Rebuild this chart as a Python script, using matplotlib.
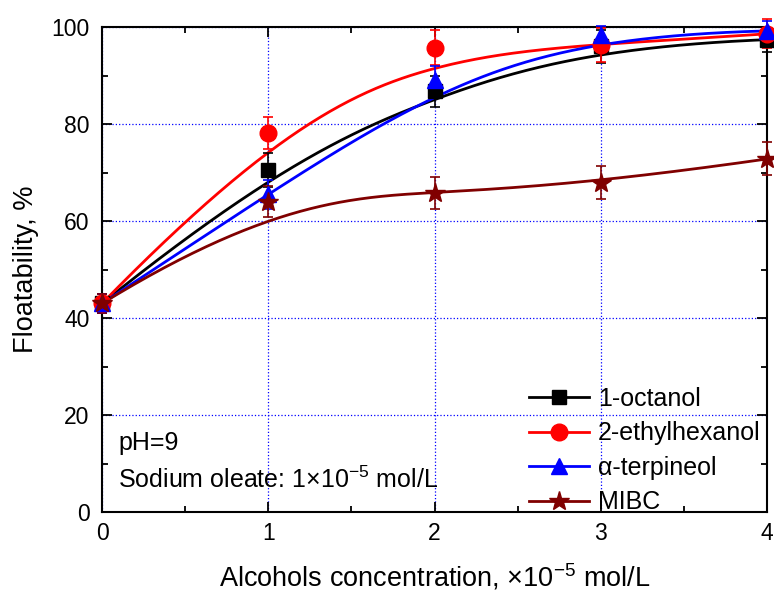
import numpy as np
import matplotlib.pyplot as plt
from matplotlib.ticker import MultipleLocator

plt.rcParams['font.family'] = ['Liberation Sans', 'DejaVu Sans']
plt.rcParams['mathtext.fontset'] = 'custom'
plt.rcParams['mathtext.rm'] = 'Liberation Sans'

# alcohol concentration, x10^-5 mol/L
conc = [0, 1, 2, 3, 4]

octanol = [43.0, 70.5, 86.8, 96.0, 97.4]
octanol_err = [2.0, 3.5, 3.2, 3.4, 2.5]
ethylhexanol = [43.0, 78.1, 95.7, 96.3, 98.6]
ethylhexanol_err = [2.0, 3.3, 3.6, 3.5, 3.0]
terpineol = [43.0, 65.5, 89.0, 98.3, 99.2]
terpineol_err = [2.0, 3.0, 3.0, 2.0, 2.0]
mibc = [43.0, 64.0, 65.8, 67.9, 72.8]
mibc_err = [2.0, 3.2, 3.3, 3.4, 3.4]

names = ['1-octanol', '2-ethylhexanol', 'α-terpineol', 'MIBC']
colors = ['black', 'red', 'blue', '#800000']
markers = ['s', 'o', '^', '*']
msizes = [10, 12, 12, 15]


def bspline(px, py, k=3, n=300):
    # clamped B-spline using the data points as control points
    px = np.asarray(px, float)
    py = np.asarray(py, float)
    m = len(px)
    inner = np.linspace(0, 1, m - k + 1)[1:-1]
    knots = np.concatenate([np.zeros(k + 1), inner, np.ones(k + 1)])
    t = np.linspace(0, 1, n)
    t[-1] = 1 - 1e-12

    basis = np.zeros((n, len(knots) - 1))
    for i in range(len(knots) - 1):
        basis[:, i] = (t >= knots[i]) & (t < knots[i + 1])
    for d in range(1, k + 1):
        new = np.zeros((n, len(knots) - 1 - d))
        for i in range(len(knots) - 1 - d):
            a = knots[i + d] - knots[i]
            b = knots[i + d + 1] - knots[i + 1]
            left = (t - knots[i]) / a * basis[:, i] if a > 0 else 0
            right = (knots[i + d + 1] - t) / b * basis[:, i + 1] if b > 0 else 0
            new[:, i] = left + right
        basis = new
    return basis @ px, basis @ py


fig = plt.figure(figsize=(7.74, 5.94), dpi=100)
ax = fig.add_axes([0.1318, 0.138, 0.8592, 0.8165])

series = [(octanol, octanol_err), (ethylhexanol, ethylhexanol_err),
          (terpineol, terpineol_err), (mibc, mibc_err)]

for (vals, errs), name, c, mk, ms in zip(series, names, colors, markers, msizes):
    cx, cy = bspline(conc, vals)
    ax.plot(cx, cy, color=c, lw=2, zorder=3, clip_on=False)
    ax.errorbar(conc, vals, yerr=errs, fmt='none', ecolor=c, elinewidth=1.2,
                capsize=3.8, capthick=1.2, zorder=4, clip_on=False)
    ax.plot(conc, vals, ls='none', marker=mk, ms=ms, color=c, mec=c,
            zorder=5, clip_on=False)
    ax.plot([], [], color=c, lw=2, marker=mk, ms=ms, label=name)

ax.set_xlim(0, 4)
ax.set_ylim(0, 100)
ax.xaxis.set_major_locator(MultipleLocator(1))
ax.xaxis.set_minor_locator(MultipleLocator(0.5))
ax.yaxis.set_major_locator(MultipleLocator(20))
ax.yaxis.set_minor_locator(MultipleLocator(10))
ax.tick_params(which='both', direction='in', top=True, right=True,
               width=1.3, labelsize=16.5)
ax.tick_params(axis='x', pad=7)
ax.tick_params(axis='y', pad=9)
ax.tick_params(which='major', length=7)
ax.tick_params(which='minor', length=4)
for sp in ax.spines.values():
    sp.set_linewidth(1.5)

ax.grid(True, which='major', color='blue', ls=':', lw=0.9)
ax.set_axisbelow(True)

ax.set_xlabel(r'Alcohols concentration, $\times$10$^{-5}$ mol/L', fontsize=19.5, labelpad=12)
ax.set_ylabel('Floatability, %', fontsize=19.5, labelpad=9)

ax.text(0.024, 0.142, 'pH=9', transform=ax.transAxes, fontsize=18, va='center')
ax.text(0.024, 0.066, r'Sodium oleate: 1$\times$10$^{-5}$ mol/L',
        transform=ax.transAxes, fontsize=18, va='center')

leg = ax.legend(loc='upper left', bbox_to_anchor=(0.642, 0.258), frameon=False,
                fontsize=18, handlelength=2.4, handletextpad=0.35,
                labelspacing=0.42, borderaxespad=0, borderpad=0)

fig.savefig('out.png', dpi=100)
